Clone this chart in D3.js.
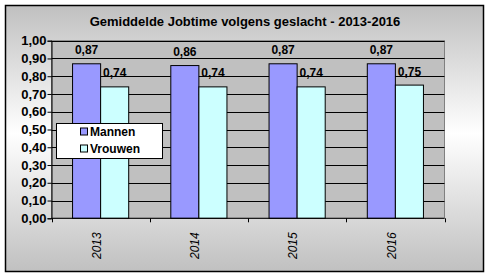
<!DOCTYPE html>
<html>
<head>
<meta charset="utf-8">
<script src="https://cdn.jsdelivr.net/npm/d3@7"></script>
<style>
  body { margin: 0; background: #fff; }
  svg { display: block; font-family: Arial, "Liberation Sans", sans-serif; }
</style>
</head>
<body>
<div id="chart"></div>
<script>
var years = ["2013", "2014", "2015", "2016"];
var seriesNames = ["Mannen", "Vrouwen"];
var mannen = [0.87, 0.86, 0.87, 0.87];
var vrouwen = [0.74, 0.74, 0.74, 0.75];
var yTicks = [0, 0.1, 0.2, 0.3, 0.4, 0.5, 0.6, 0.7, 0.8, 0.9, 1.0];

var W = 489, H = 278;
var plot = { left: 51.5, right: 444.5, top: 40.7, bottom: 218.3 };
var colors = ["#9999ff", "#ccffff"];

var svg = d3.select("#chart").append("svg")
  .attr("width", W)
  .attr("height", H);

// background gradient
var grad = svg.append("defs").append("linearGradient")
  .attr("id", "bg")
  .attr("x1", 0).attr("y1", 0).attr("x2", 0).attr("y2", 1);
grad.append("stop").attr("offset", "0%").attr("stop-color", "#c0c0c0");
grad.append("stop").attr("offset", "48%").attr("stop-color", "#ffffff");
grad.append("stop").attr("offset", "100%").attr("stop-color", "#c0c0c0");

svg.append("rect")
  .attr("x", 5.5).attr("y", 5.5)
  .attr("width", 478).attr("height", 266)
  .attr("fill", "url(#bg)")
  .attr("stroke", "#000")
  .attr("stroke-width", 1.5);

// title
svg.append("text")
  .attr("x", 245).attr("y", 26)
  .attr("text-anchor", "middle")
  .style("font-size", "13px")
  .style("font-weight", "bold")
  .text("Gemiddelde Jobtime volgens geslacht - 2013-2016");

var x = d3.scaleBand()
  .domain(years)
  .range([plot.left, plot.right]);

var x1 = d3.scaleBand()
  .domain(seriesNames)
  .range([0, x.bandwidth()])
  .paddingOuter(0.75);

var y = d3.scaleLinear()
  .domain([0, 1])
  .range([plot.bottom, plot.top]);

// plot area
svg.append("rect")
  .attr("x", plot.left).attr("y", plot.top)
  .attr("width", plot.right - plot.left)
  .attr("height", plot.bottom - plot.top)
  .attr("fill", "#c0c0c0")
  .attr("stroke", "#808080");

// gridlines
svg.append("g").selectAll("line")
  .data(yTicks.slice(1))
  .enter().append("line")
  .attr("x1", plot.left).attr("x2", plot.right)
  .attr("y1", function(d) { return Math.round(y(d)) + 0.5; })
  .attr("y2", function(d) { return Math.round(y(d)) + 0.5; })
  .attr("stroke", "#000");

// bars
var data = years.map(function(yr, i) {
  return { year: yr, values: [mannen[i], vrouwen[i]] };
});

var groups = svg.append("g").selectAll("g")
  .data(data)
  .enter().append("g")
  .attr("transform", function(d) { return "translate(" + x(d.year) + ",0)"; });

groups.selectAll("rect")
  .data(function(d) { return d.values.map(function(v, j) { return { name: seriesNames[j], v: v, j: j }; }); })
  .enter().append("rect")
  .attr("x", function(d) { return x1(d.name); })
  .attr("y", function(d) { return y(d.v); })
  .attr("width", x1.bandwidth())
  .attr("height", function(d) { return plot.bottom - y(d.v); })
  .attr("fill", function(d) { return colors[d.j]; })
  .attr("stroke", "#000");

groups.selectAll("text")
  .data(function(d) { return d.values.map(function(v, j) { return { name: seriesNames[j], v: v }; }); })
  .enter().append("text")
  .attr("x", function(d) { return x1(d.name) + x1.bandwidth() / 2; })
  .attr("y", function(d) { return y(d.v) - 9.5; })
  .attr("text-anchor", "middle")
  .style("font-size", "12px")
  .style("font-weight", "bold")
  .text(function(d) { return d3.format(".2f")(d.v).replace(".", ","); });

// y axis
var yAxis = d3.axisLeft(y)
  .tickValues(yTicks)
  .tickSize(4)
  .tickFormat(function(d) { return d3.format(".2f")(d).replace(".", ","); });

var gy = svg.append("g")
  .attr("transform", "translate(" + plot.left + ",0)")
  .call(yAxis);
gy.selectAll("path, line").attr("stroke", "#000");
gy.selectAll("text")
  .attr("x", -5)
  .style("font-size", "13px")
  .style("font-weight", "bold")
  .style("font-family", "Arial, 'Liberation Sans', sans-serif")
  .attr("fill", "#000");

// x axis
var gx = svg.append("g")
  .attr("transform", "translate(0," + plot.bottom + ")");
gx.append("line")
  .attr("x1", plot.left).attr("x2", plot.right)
  .attr("y1", 0).attr("y2", 0)
  .attr("stroke", "#000");
gx.selectAll("line.tick")
  .data(years.concat(["end"]))
  .enter().append("line")
  .attr("class", "tick")
  .attr("x1", function(d, i) { return Math.round(plot.left + i * x.bandwidth()) + 0.5; })
  .attr("x2", function(d, i) { return Math.round(plot.left + i * x.bandwidth()) + 0.5; })
  .attr("y1", 0).attr("y2", 4)
  .attr("stroke", "#000");
gx.selectAll("text")
  .data(years)
  .enter().append("text")
  .attr("transform", function(d) {
    return "translate(" + (x(d) + x.bandwidth() / 2 - 4) + ",14) rotate(-90)";
  })
  .attr("text-anchor", "end")
  .attr("dy", "0.35em")
  .style("font-size", "12px")
  .style("font-style", "italic")
  .text(function(d) { return d; });

// legend
var legend = svg.append("g");
legend.append("rect")
  .attr("x", 56.5).attr("y", 123.5)
  .attr("width", 106).attr("height", 35)
  .attr("fill", "#fff")
  .attr("stroke", "#000");

var items = legend.selectAll("g.item")
  .data(seriesNames)
  .enter().append("g")
  .attr("class", "item")
  .attr("transform", function(d, i) { return "translate(80," + (131.5 + i * 17) + ")"; });
items.append("rect")
  .attr("x", 0.5).attr("y", -3.5)
  .attr("width", 7).attr("height", 7)
  .attr("fill", function(d, i) { return colors[i]; })
  .attr("stroke", "#000");
items.append("text")
  .attr("x", 10).attr("y", 0)
  .attr("dy", "0.35em")
  .style("font-size", "12px")
  .style("font-weight", "bold")
  .text(function(d) { return d; });
</script>
</body>
</html>
